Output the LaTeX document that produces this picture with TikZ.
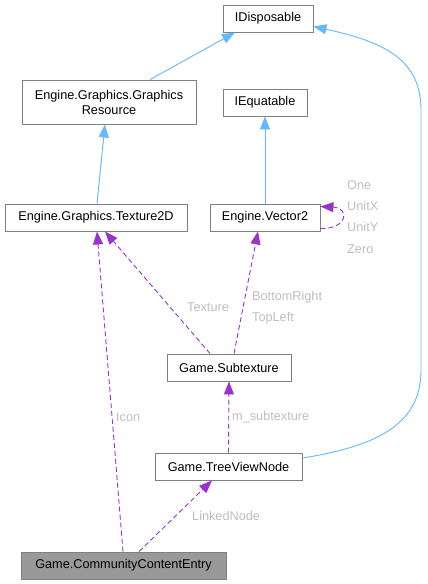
\documentclass[tikz,border=0pt]{standalone}
\usepackage{fontspec}
\setmainfont{Liberation Sans}
\usetikzlibrary{arrows.meta}
\definecolor{inhblue}{HTML}{63B8FF}
\definecolor{usepurple}{HTML}{9A32CD}
\definecolor{boxgray}{HTML}{808080}
\definecolor{labgray}{HTML}{BEBEBE}
\begin{document}
\begin{tikzpicture}[x=1pt, y=-1pt,
        font=\fontsize{12.7}{15}\selectfont,
        cls/.style={draw=boxgray, line width=0.9pt, fill=white, inner sep=0pt, minimum height=27pt, align=center},
        inh/.style={draw=inhblue, line width=0.9pt, -{Triangle[length=13pt, width=10pt]}, fill=inhblue},
        uses/.style={draw=usepurple, line width=0.9pt, dash pattern=on 5pt off 3pt, -{Triangle[length=13pt, width=10pt, fill=usepurple]}},
        lbl/.style={text=labgray, inner sep=0pt, anchor=west}]
        \useasboundingbox (0,0) rectangle (428,584);

        \node[cls, minimum width=90pt] (idisp) at (268,18.5) {IDisposable};
        \node[cls, minimum width=174pt, minimum height=44pt] (gres) at (109,102) {Engine.Graphics.Graphics\\Resource};
        \node[cls, minimum width=84pt] (ieq) at (265,102.5) {IEquatable};
        \node[cls, minimum width=182pt] (tex) at (96,217.5) {Engine.Graphics.Texture2D};
        \node[cls, minimum width=110pt] (vec) at (265,217.5) {Engine.Vector2};
        \node[cls, minimum width=124pt] (sub) at (229,367.5) {Game.Subtexture};
        \node[cls, minimum width=147pt] (tvn) at (228.5,466.5) {Game.TreeViewNode};
        \node[cls, minimum width=205pt, fill=black!40] (cce) at (123.5,565.5) {Game.CommunityContentEntry};

        \draw[inh] ([xshift=41pt]gres.north) -- ([xshift=-33pt]idisp.south);
        \draw[inh] ([xshift=1pt]tex.north) -- ([xshift=-4pt]gres.south);
        \draw[inh] (vec.north) -- (ieq.south);
        \draw[inh, fill=none] ([yshift=8.5pt]tvn.east) .. controls (385,445) and (421,420) .. (421,370)
            -- (421,110) .. controls (421,60) and (385,42) .. ([yshift=-8pt]idisp.east);

        \draw[uses] ([yshift=-11pt]vec.east) .. controls (348,229) and (350,208) .. ([yshift=11pt]vec.east);
        \draw[uses] ([xshift=-19pt]sub.north) -- ([xshift=9pt]tex.south);
        \draw[uses] ([xshift=5pt]sub.north) -- ([xshift=-7pt]vec.south);
        \draw[uses] (tvn.north) -- (sub.south);
        \draw[uses] ([xshift=-0.5pt]cce.north) -- ([xshift=1pt]tex.south);
        \draw[uses] ([xshift=15.5pt]cce.north) -- ([xshift=-16.5pt]tvn.south);

        \node[lbl] (lone) at (347,185) {One};
        \node[lbl] (lunitx) at (347,206) {UnitX};
        \node[lbl] (lunity) at (347,227) {UnitY};
        \node[lbl] (lzero) at (347,249) {Zero};
        \node[lbl] (ltex) at (187,307.5) {Texture};
        \node[lbl] (lbr) at (252,297) {BottomRight};
        \node[lbl] (ltl) at (252,318) {TopLeft};
        \node[lbl] (lsub) at (232,417) {m\_subtexture};
        \node[lbl] (licon) at (116,417) {Icon};
        \node[lbl] (llink) at (192,516) {LinkedNode};
\end{tikzpicture}
\end{document}
